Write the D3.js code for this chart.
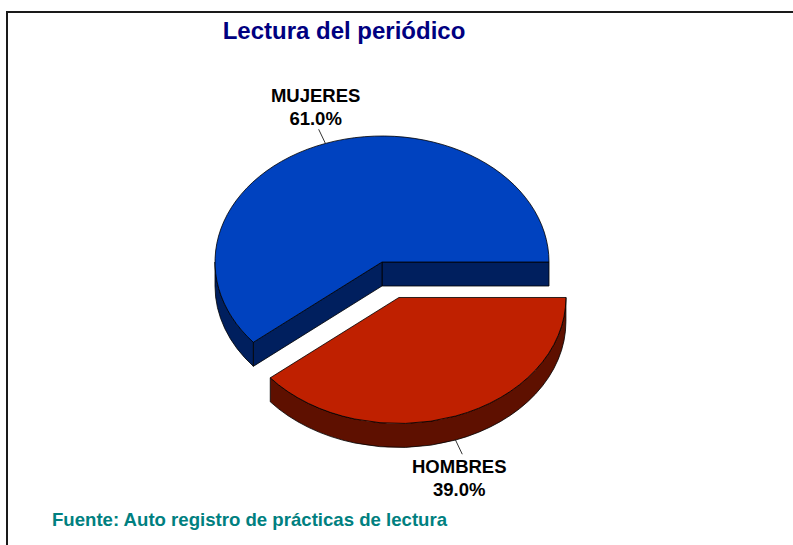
<!DOCTYPE html>
<html>
<head>
<meta charset="utf-8">
<script src="https://cdn.jsdelivr.net/npm/d3@7"></script>
<style>
  body { margin: 0; background: #fff; }
  text { font-family: "Liberation Sans", Arial, sans-serif; font-weight: bold; }
</style>
</head>
<body>
<div id="chart"></div>
<script>
// data
var categories = ["HOMBRES", "MUJERES"];
var values = [39.0, 61.0];
var topColors = ["#bf2000", "#0042bf"];
var sideColors = ["#5e1000", "#001f5e"];
var explode = [50, 0];

var width = 793,
    height = 545;

var cx = 382, cy = 262,
    rx = 167, ry = 126,
    depth = 24,
    k = ry / rx;

var svg = d3.select("#chart")
    .append("svg")
    .attr("width", width)
    .attr("height", height);

// frame
svg.append("rect")
    .attr("x", 7).attr("y", 12)
    .attr("width", 820).attr("height", 620)
    .attr("fill", "none")
    .attr("stroke", "#1a1a1a")
    .attr("stroke-width", 2);

svg.append("text")
    .attr("x", 344).attr("y", 39)
    .attr("text-anchor", "middle")
    .attr("font-size", 24)
    .attr("fill", "#000080")
    .text("Lectura del periódico");

svg.append("text")
    .attr("x", 52).attr("y", 526)
    .attr("font-size", 18.6)
    .attr("fill", "#008080")
    .text("Fuente: Auto registro de prácticas de lectura");

// slices, clockwise from 3 o'clock
var pie = d3.pie()
    .sort(null)
    .startAngle(Math.PI / 2)
    .endAngle(Math.PI / 2 + 2 * Math.PI);

var arcs = pie(values).map(function(d, i) {
    var mid = (d.startAngle + d.endAngle) / 2;
    d.name = categories[i];
    d.ox = cx + explode[i] * Math.sin(mid);
    d.oy = cy - explode[i] * Math.cos(mid) * k;
    d.mid = mid;
    d.i = i;
    return d;
});

function pt(d, a, r, dy) {
    r = r || rx;
    return [d.ox + r * Math.sin(a), d.oy - r * k * Math.cos(a) + (dy || 0)];
}

function arcTo(p, a0, a1, sweep) {
    var large = Math.abs(a1 - a0) > Math.PI ? 1 : 0;
    return "A" + rx + "," + ry + " 0 " + large + " " + sweep + " " + p[0] + "," + p[1];
}

function topPath(d) {
    var p0 = pt(d, d.startAngle), p1 = pt(d, d.endAngle);
    return "M" + d.ox + "," + d.oy + "L" + p0 + arcTo(p1, d.startAngle, d.endAngle, 1) + "Z";
}

function sidePath(d, a0, a1) {
    var p0 = pt(d, a0), p1 = pt(d, a1),
        q0 = pt(d, a0, rx, depth), q1 = pt(d, a1, rx, depth);
    return "M" + p0 + arcTo(p1, a0, a1, 1) + "L" + q1 + arcTo(q0, a0, a1, 0) + "Z";
}

function facePath(d, a) {
    var p = pt(d, a);
    return "M" + d.ox + "," + d.oy + "L" + p + "L" + p[0] + "," + (p[1] + depth) +
        "L" + d.ox + "," + (d.oy + depth) + "Z";
}

// front half of rim: angles between pi/2 and 3pi/2
function frontRange(d) {
    var lo = Math.max(d.startAngle, Math.PI / 2),
        hi = Math.min(d.endAngle, 3 * Math.PI / 2);
    return hi > lo ? [lo, hi] : null;
}

// back slice first
var order = [1, 0];
var g = svg.append("g");

order.forEach(function(i) {
    var d = arcs[i];
    var s = g.append("g");
    var stroke = { stroke: "#000", "stroke-width": 0.8, "stroke-linejoin": "round" };

    // radial faces visible only where the neighbour slice is exploded away
    if (explode[i] === 0) {
        [d.endAngle, d.startAngle].forEach(function(a) {
            s.append("path").attr("d", facePath(d, a))
                .attr("fill", sideColors[i]).attr("stroke", "#000").attr("stroke-width", 0.8);
        });
    }
    var fr = frontRange(d);
    if (fr) {
        s.append("path").attr("d", sidePath(d, fr[0], fr[1]))
            .attr("fill", sideColors[i]).attr("stroke", "#000").attr("stroke-width", 0.8);
    }
    s.append("path").attr("d", topPath(d))
        .attr("fill", topColors[i]).attr("stroke", "#000").attr("stroke-width", 0.8)
        .attr("stroke-linejoin", "round");
});

// labels with leader lines
arcs.forEach(function(d) {
    var front = Math.cos(d.mid) < 0;
    var dy = front ? depth : 0;
    var a = pt(d, d.mid, rx, dy),
        b = pt(d, d.mid, rx + 20, dy);
    svg.append("line")
        .attr("x1", a[0]).attr("y1", a[1])
        .attr("x2", b[0]).attr("y2", b[1])
        .attr("stroke", "#000").attr("stroke-width", 0.8);

    var y1 = front ? b[1] + 18.7 : b[1] - 27.5;
    var lab = svg.append("text")
        .attr("text-anchor", "middle")
        .attr("font-size", 18.5)
        .attr("fill", "#000");
    lab.append("tspan").attr("x", b[0] - 3).attr("y", y1).text(d.name);
    lab.append("tspan").attr("x", b[0] - 3).attr("y", y1 + 23).text(d3.format(".1f")(d.data) + "%");
});
</script>
</body>
</html>
